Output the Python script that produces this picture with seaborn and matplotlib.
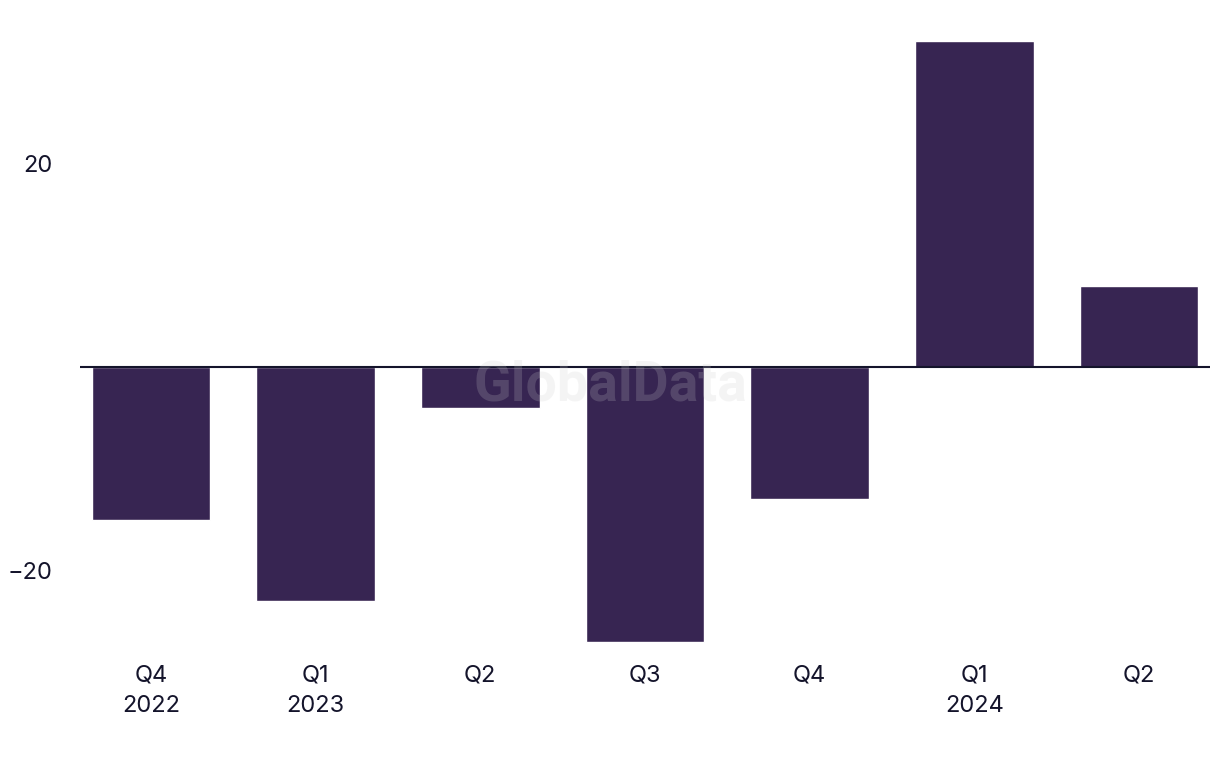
"""Quarterly change bar chart (GlobalData style)."""

import matplotlib

matplotlib.use("Agg")

import matplotlib.pyplot as plt
import pandas as pd
import seaborn as sns

periods = ["2022Q4", "2023Q1", "2023Q2", "2023Q3", "2023Q4", "2024Q1", "2024Q2"]
tick_labels = ["Q4\n2022", "Q1\n2023", "Q2", "Q3", "Q4", "Q1\n2024", "Q2"]
values = [-15, -23, -4, -27, -13, 32, 8]
y_ticks = [-20, 20]

BAR_COLOR = "#372552"
TEXT_COLOR = "#14142b"


def main() -> None:
    sns.set_theme(style="white")
    plt.rcParams["font.family"] = ["Inter", "DejaVu Sans"]

    data = pd.DataFrame({"period": periods, "value": values})

    fig = plt.figure(figsize=(12.2, 7.68), dpi=100)
    ax = fig.add_axes([0.0656, 0.1512, 0.9262, 0.8214])
    sns.barplot(data=data, x="period", y="value", color=BAR_COLOR, width=0.72,
                saturation=1, ax=ax, zorder=2)

    ax.axhline(0, color=TEXT_COLOR, linewidth=1.5, zorder=3)
    ax.set_xlim(-0.43, 6.43)
    ax.set_ylim(-28, 34)
    ax.set_yticks(y_ticks)
    ax.set_yticklabels([str(v).replace("-", "\u2212") for v in y_ticks])
    ax.set_xticks(range(len(tick_labels)))
    ax.set_xticklabels(tick_labels, linespacing=1.5)
    ax.tick_params(axis="both", length=0, labelsize=17, colors=TEXT_COLOR)
    ax.tick_params(axis="y", pad=20)
    ax.tick_params(axis="x", pad=9)
    ax.set_xlabel("")
    ax.set_ylabel("")
    for spine in ax.spines.values():
        spine.set_visible(False)

    fig.text(0.5, 0.498, "GlobalData", ha="center", va="center", fontsize=40,
             fontweight="bold", family=["Roboto", "DejaVu Sans"],
             color="#cccccc", alpha=0.2, zorder=5)

    fig.savefig("out.png", dpi=100)
    plt.close(fig)


if __name__ == "__main__":
    main()
